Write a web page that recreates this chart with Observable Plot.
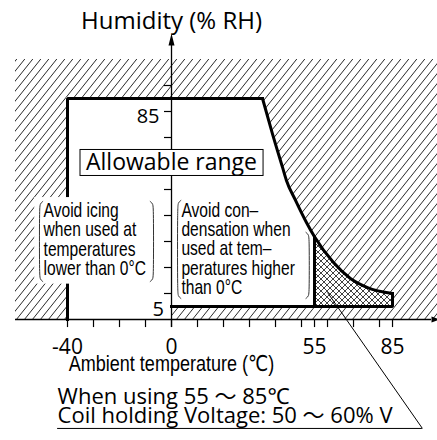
<!DOCTYPE html>
<html><head><meta charset="utf-8">
<script src="https://cdn.jsdelivr.net/npm/d3@7"></script>
<script src="https://cdn.jsdelivr.net/npm/@observablehq/plot@0.6"></script>
<style>body{margin:0;background:#fff}</style>
</head><body><div id="chart"></div>
<script>
// ---- data (temperature °C, humidity %RH) ----
const curveTemp = [35, 38.8, 42.7, 44.2, 47.7, 51.9, 55, 62.3, 68.8, 75.4, 85];
const curveHum  = [85, 71.5, 58.5, 53.5, 45.8, 37.3, 31.8, 21.9, 15.8, 12.3, 10];
const outlineLeftTemp = [-40, -40, 35];
const outlineLeftHum  = [0, 85, 85];
const outlineBottomTemp = [85, 85, 0];
const outlineBottomHum  = [10, 5, 5];
const crossStart = 55;            // cross-hatched band 55–85 °C
const allowTop = 85, allowBottom = 5;
const xTicks = [-40, -30, -20, -10, 0, 10, 20, 30, 40, 50, 55, 60, 70, 80, 85];
const xTickLabelValues = [-40, 0, 55, 85];
const xTickLabels = ["-40", "0", "55", "85"];
const yTicks = [10, 20, 30, 40, 50, 60, 70, 80, 90];
const yTickLabels = ["85", "5"];
const titleText = "Humidity (% RH)";
const xAxisTitle = "Ambient temperature (℃)";
const boxLabel = "Allowable range";
const noteLeft = ["Avoid icing", "when used at", "temperatures", "lower than 0°C"];
const noteRight = ["Avoid con–", "densation when", "used at tem–", "peratures higher", "than 0°C"];
const captionLines = ["When using 55 ～ 85℃", "Coil holding Voltage: 50 ～ 60% V"];
// bracket extents: x (°C), top, bottom (%RH), hook direction
const bracketX = [-50.8, -6.9, 2.3, 53];
const bracketTop = [45.4, 45.4, 45.8, 33.5];
const bracketBottom = [14.6, 14.6, 8.1, 8.1];
const bracketDir = [1, -1, 1, -1];

// ---- derived tables ----
const curve = curveTemp.map((t, i) => ({t, h: curveHum[i]}));
const crossPts = curve.filter(d => d.t >= crossStart);
const outlineLeft = outlineLeftTemp.map((t, i) => ({t, h: outlineLeftHum[i]}));
const outlineBottom = outlineBottomTemp.map((t, i) => ({t, h: outlineBottomHum[i]}));
const crossTop = curve.find(d => d.t === crossStart).h;
const brackets = [];
bracketX.forEach((x, i) => {
  const d = bracketDir[i], t = bracketTop[i], b = bracketBottom[i];
  [[x + d * 1.3, t], [x + d * 0.3, t - 0.8], [x, t - 2.6], [x, b + 2.6], [x + d * 0.3, b + 0.8], [x + d * 1.3, b]]
    .forEach(([px, py]) => brackets.push({id: i, t: px, h: py}));
});

const MAIN = "'Open Sans', 'Noto Sans', 'DejaVu Sans', 'Noto Sans CJK JP', sans-serif";
const NARROW = "'Liberation Sans', Arimo, 'DejaVu Sans', 'Noto Sans CJK JP', sans-serif";

const svg = Plot.plot({
  width: 437, height: 440, margin: 0,
  x: {domain: [-60, 102.3], range: [15, 437], axis: null},
  y: {domain: [0, 100], range: [319, 59], axis: null},
  style: {fontFamily: MAIN, background: "#fff", overflow: "visible", color: "#000"},
  marks: [
    // hatched (not allowed) field
    Plot.rect([{x1: -60, x2: 102.3, y1: 0, y2: 100}], {x1: "x1", x2: "x2", y1: "y1", y2: "y2", fill: "url(#hatch)"}),
    // allowable region (white)
    Plot.rect([{x1: -40, x2: 0, y1: 0, y2: allowTop}, {x1: 0, x2: curveTemp[0], y1: allowBottom, y2: allowTop}],
      {x1: "x1", x2: "x2", y1: "y1", y2: "y2", fill: "#fff", stroke: "#fff", strokeWidth: 1}),
    Plot.areaY(curve, {x: "t", y1: allowBottom, y2: "h", curve: "monotone-x", fill: "#fff", stroke: "#fff", strokeWidth: 1}),
    // cross-hatched band
    Plot.areaY(crossPts, {x: "t", y1: allowBottom, y2: "h", curve: "monotone-x", fill: "url(#cross)"}),
    // axes
    Plot.ruleY([0], {x1: -60, x2: 100, stroke: "#000", strokeWidth: 1.3}),
    Plot.vector([{t: 100, h: 0}], {x: "t", y: "h", length: 8, r: 3, rotate: 90, shape: "spike", anchor: "start", fill: "#000", stroke: "none"}),
    Plot.ruleX([0], {y1: -3.1, y2: 105.4, stroke: "#000", strokeWidth: 1.3}),
    Plot.vector([{t: 0, h: 105.4}], {x: "t", y: "h", length: 12, r: 3, rotate: 0, shape: "spike", anchor: "start", fill: "#000", stroke: "none"}),
    Plot.ruleX(xTicks, {y1: 0, y2: -3.1, stroke: "#000", strokeWidth: 1.2}),
    Plot.ruleY(yTicks, {x1: -2.7, x2: 0, stroke: "#000", strokeWidth: 1.2}),
    // thick boundary
    Plot.line(outlineLeft, {x: "t", y: "h", stroke: "#000", strokeWidth: 3, strokeLinejoin: "miter", strokeLinecap: "square"}),
    Plot.line(curve, {x: "t", y: "h", curve: "monotone-x", stroke: "#000", strokeWidth: 3, strokeLinecap: "round"}),
    Plot.line(outlineBottom, {x: "t", y: "h", stroke: "#000", strokeWidth: 3, strokeLinejoin: "miter", strokeLinecap: "square"}),
    Plot.ruleX([crossStart], {y1: allowBottom, y2: crossTop, stroke: "#000", strokeWidth: 3}),
    // white knock-out behind left note (covers hatch and boundary)
    Plot.rect([{x1: -52.6, x2: -6.2, y1: 13.6, y2: 46.9}], {x1: "x1", x2: "x2", y1: "y1", y2: "y2", fill: "#fff"}),
    // "Allowable range" box
    Plot.rect([{x1: -35, x2: 35.4, y1: 55.2, y2: 65.2}], {x1: "x1", x2: "x2", y1: "y1", y2: "y2", fill: "#fff", stroke: "#000", strokeWidth: 1}),
    Plot.text([boxLabel], {x: 0, y: 60.2, text: d => d, fontSize: 23, textAnchor: "middle", lineAnchor: "middle"}),
    // notes and brackets (narrow face)
    Plot.text([noteLeft.join("\n")], {x: -49.2, y: 44.8, text: d => d, fontFamily: NARROW, fontSize: 20, lineHeight: 0.975, textAnchor: "start", lineAnchor: "top"}),
    Plot.text([noteRight.join("\n")], {x: 3.8, y: 44.8, text: d => d, fontFamily: NARROW, fontSize: 20, lineHeight: 0.965, textAnchor: "start", lineAnchor: "top"}),
    Plot.line(brackets, {x: "t", y: "h", z: "id", curve: "basis", stroke: "#333", strokeWidth: 1}),
    // tick labels
    Plot.text(xTickLabelValues, {x: d => d, y: 0, text: (d, i) => xTickLabels[i], dy: 27.3, fontSize: 21, textAnchor: "middle", lineAnchor: "middle"}),
    Plot.text([allowTop], {x: 0, y: d => d, text: () => yTickLabels[0], dx: -12, dy: 17.6, fontSize: 20, textAnchor: "end", lineAnchor: "middle"}),
    Plot.text([allowBottom], {x: 0, y: d => d, text: () => yTickLabels[1], dx: -7.5, dy: 2.6, fontSize: 20, textAnchor: "end", lineAnchor: "middle"}),
    // titles
    Plot.text([titleText], {x: 0, y: 114.8, text: d => d, fontSize: 24, textAnchor: "middle", lineAnchor: "middle"}),
    Plot.text([xAxisTitle], {x: 0, y: -17.2, text: d => d, fontFamily: NARROW, fontSize: 22, textAnchor: "middle", lineAnchor: "middle"}),
    // caption, underline and leader
    Plot.text(captionLines, {x: -43.8, y: (d, i) => [-29.7, -37][i], text: d => d, fontSize: 22, textAnchor: "start", lineAnchor: "middle"}),
    Plot.ruleY([-41.9], {x1: -43.8, x2: 96.5, stroke: "#000", strokeWidth: 1}),
    Plot.link([{t1: 60, h1: 10.4, t2: 96.5, h2: -41.9}], {x1: "t1", y1: "h1", x2: "t2", y2: "h2", stroke: "#000", strokeWidth: 1})
  ]
});

d3.select(svg).insert("defs", ":first-child").html(`
  <pattern id="hatch" patternUnits="userSpaceOnUse" width="8" height="10">
    <path d="M-10,12.5L2,-2.5M-2,12.5L10,-2.5M6,12.5L18,-2.5" stroke="#111" stroke-width="0.9" fill="none"/>
  </pattern>
  <pattern id="cross" patternUnits="userSpaceOnUse" width="6" height="6">
    <rect width="6" height="6" fill="#fff"/>
    <path d="M-1,-1L7,7M-1,5L1,7M5,-1L7,1M-1,7L7,-1M-1,1L1,-1M5,7L7,5" stroke="#111" stroke-width="0.8" fill="none"/>
  </pattern>`);
// condensed look for the narrow-set texts
d3.select(svg).selectAll("g[font-family*='Liberation']").each(function () {
  const k = this.getAttribute("font-size") === "20" ? 0.78 : 0.82;
  d3.select(this).selectAll("text").each(function () {
    const t = this.getAttribute("transform") || "";
    this.setAttribute("transform", t + ` scale(${k},1)`);
  });
});
document.getElementById("chart").appendChild(svg);
</script>
</body></html>
